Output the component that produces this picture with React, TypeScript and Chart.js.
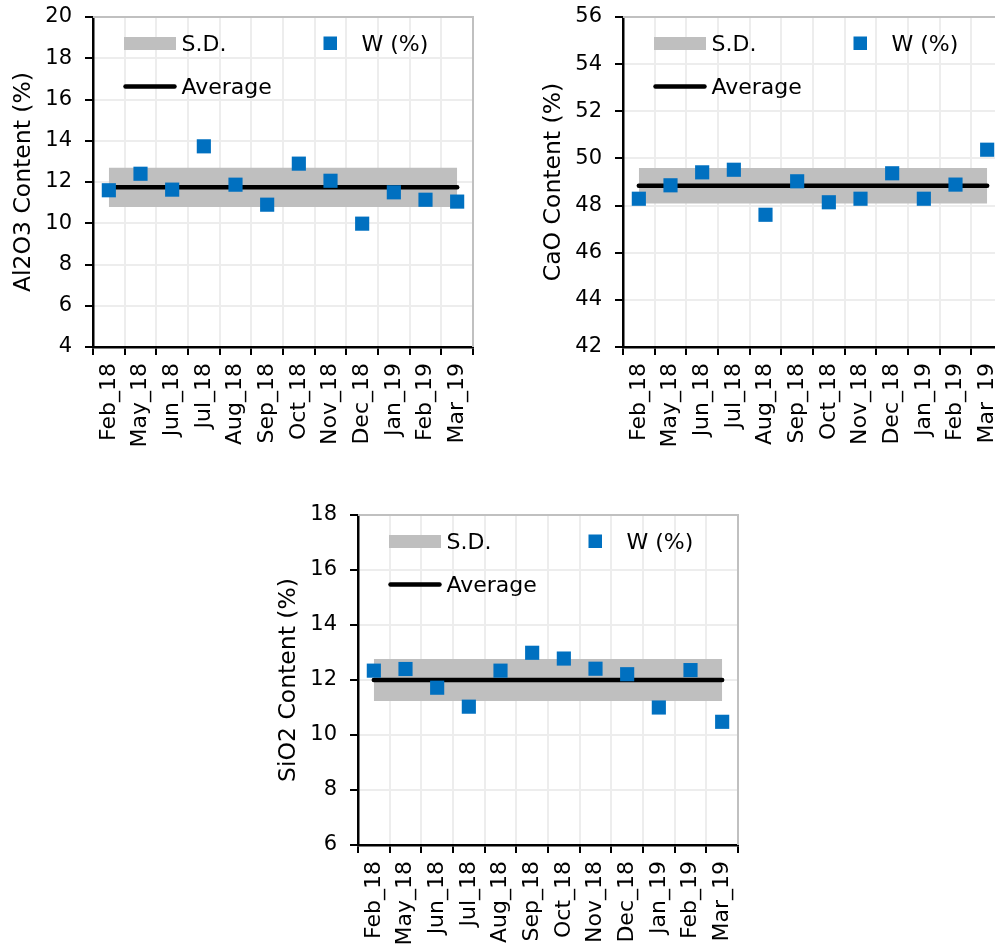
import { useEffect, useRef } from "react";
import { Chart, registerables } from "chart.js";

Chart.register(...registerables);

// Sampling months (category axis)
const months = [
  "Feb_18", "May_18", "Jun_18", "Jul_18", "Aug_18", "Sep_18",
  "Oct_18", "Nov_18", "Dec_18", "Jan_19", "Feb_19", "Mar_19",
];

// Al2O3 content, W (%)
const al2o3Values = [11.6, 12.4, 11.63, 13.73, 11.87, 10.9, 12.89, 12.06, 9.98, 11.5, 11.14, 11.05];
const al2o3Average = 11.74;
const al2o3Sd = 0.95;
const al2o3Range = [4, 20];

// CaO content, W (%)
const caoValues = [48.29, 48.86, 49.41, 49.52, 47.61, 49.03, 48.14, 48.29, 49.37, 48.29, 48.89, 50.37];
const caoAverage = 48.84;
const caoSd = 0.75;
const caoRange = [42, 56];

// SiO2 content, W (%)
const sio2Values = [12.34, 12.4, 11.72, 11.03, 12.34, 12.99, 12.78, 12.41, 12.21, 11.0, 12.36, 10.48];
const sio2Average = 12.0;
const sio2Sd = 0.76;
const sio2Range = [6, 18];

const yStep = 2;

const LABEL_W = "W (%)";
const LABEL_AVG = "Average";
const LABEL_SD = "S.D.";

const FONT = "'DejaVu Sans', 'Liberation Sans', Arial, sans-serif";
const BLUE = "#0070C0";
const BAND = "#BFBFBF";
const GRID = "#EDEDED";

Chart.defaults.color = "#000";

type PanelSpec = {
  title: string;
  values: number[];
  average: number;
  sd: number;
  range: number[];
};

// Legend drawn inside the plot area: S.D. / W (%) on the first row, Average below
const innerLegend = {
  id: "innerLegend",
  afterDraw(chart: any) {
    const { ctx, chartArea } = chart;
    const { left, top } = chartArea;
    ctx.save();
    ctx.fillStyle = BAND;
    ctx.fillRect(left + 31, top + 20, 52, 13);
    ctx.fillStyle = BLUE;
    ctx.fillRect(left + 230.5, top + 19.5, 13.5, 13.5);
    ctx.strokeStyle = "#000";
    ctx.lineWidth = 4.5;
    ctx.lineCap = "round";
    ctx.beginPath();
    ctx.moveTo(left + 32.5, top + 69.5);
    ctx.lineTo(left + 81.5, top + 69.5);
    ctx.stroke();
    ctx.fillStyle = "#000";
    ctx.font = `22px ${FONT}`;
    ctx.textAlign = "left";
    ctx.textBaseline = "alphabetic";
    ctx.fillText(LABEL_SD, left + 88.5, top + 33.5);
    ctx.fillText(LABEL_W, left + 268.5, top + 33.5);
    ctx.fillText(LABEL_AVG, left + 88.5, top + 77);
    ctx.restore();
  },
};

// Light frame on the top and right edges of the plot area
const plotFrame = {
  id: "plotFrame",
  beforeDatasetsDraw(chart: any) {
    const { ctx, chartArea } = chart;
    const { left, right, top, bottom } = chartArea;
    ctx.save();
    ctx.strokeStyle = "#C0C0C0";
    ctx.lineWidth = 2;
    ctx.beginPath();
    ctx.moveTo(left, top);
    ctx.lineTo(right, top);
    ctx.lineTo(right, bottom);
    ctx.stroke();
    ctx.restore();
  },
};

function Panel({ spec, left, top }: { spec: PanelSpec; left: number; top: number }) {
  const ref = useRef<HTMLCanvasElement>(null);

  useEffect(() => {
    const canvas = ref.current;
    if (!canvas) return;
    const avgLine = months.map(() => spec.average);
    const sdUpper = months.map(() => spec.average + spec.sd);
    const sdLower = months.map(() => spec.average - spec.sd);

    const chart = new Chart(canvas, {
      type: "line",
      data: {
        labels: months,
        datasets: [
          {
            label: LABEL_W,
            data: spec.values,
            showLine: false,
            pointStyle: "rect",
            pointRadius: 10,
            pointBorderWidth: 0,
            pointBackgroundColor: BLUE,
            pointBorderColor: BLUE,
            order: 0,
          },
          {
            label: LABEL_AVG,
            data: avgLine,
            borderColor: "#000",
            borderWidth: 4.5,
            borderCapStyle: "round",
            pointRadius: 0,
            fill: false,
            order: 1,
          },
          {
            label: LABEL_SD + " upper",
            data: sdUpper,
            borderWidth: 0,
            borderColor: "rgba(0,0,0,0)",
            pointRadius: 0,
            fill: false,
            order: 2,
          },
          {
            label: LABEL_SD,
            data: sdLower,
            borderWidth: 0,
            borderColor: "rgba(0,0,0,0)",
            backgroundColor: BAND,
            pointRadius: 0,
            fill: "-1",
            order: 3,
          },
        ],
      },
      options: {
        responsive: false,
        animation: false,
        events: [],
        layout: { padding: { top: 17, right: 17, bottom: 0, left: 0 } },
        plugins: {
          legend: { display: false },
          tooltip: { enabled: false },
        },
        scales: {
          x: {
            type: "category",
            offset: true,
            grid: {
              offset: true,
              color: GRID,
              lineWidth: 2,
              tickColor: "#000",
              tickLength: 8,
              tickWidth: 2,
            },
            border: { color: "#000", width: 2.5 },
            ticks: {
              autoSkip: false,
              minRotation: 90,
              maxRotation: 90,
              padding: 8,
              color: "#000",
              font: { family: FONT, size: 22 },
            },
            afterFit: (s: any) => {
              s.height = 123;
              s.paddingLeft = 0;
              s.paddingRight = 10;
            },
          },
          y: {
            min: spec.range[0],
            max: spec.range[1],
            ticks: {
              stepSize: yStep,
              padding: 13,
              color: "#000",
              font: { family: FONT, size: 21 },
            },
            grid: {
              color: GRID,
              lineWidth: 2,
              tickColor: "#000",
              tickLength: 8,
              tickWidth: 2,
            },
            border: { color: "#000", width: 2.5 },
            title: {
              display: true,
              text: spec.title,
              color: "#000",
              font: { family: FONT, size: 23.5 },
              padding: { top: 9.5, bottom: 0 },
            },
            afterFit: (s: any) => {
              s.width = 93;
              s.paddingTop = 10;
              s.paddingBottom = 10;
            },
          },
        },
      },
      plugins: [plotFrame, innerLegend],
    } as any);

    return () => chart.destroy();
  }, [spec]);

  return (
    <canvas
      ref={ref}
      width={490}
      height={470}
      style={{ position: "absolute", left, top, width: 490, height: 470 }}
    />
  );
}

const al2o3Spec: PanelSpec = {
  title: "Al2O3 Content (%)",
  values: al2o3Values,
  average: al2o3Average,
  sd: al2o3Sd,
  range: al2o3Range,
};
const caoSpec: PanelSpec = {
  title: "CaO Content (%)",
  values: caoValues,
  average: caoAverage,
  sd: caoSd,
  range: caoRange,
};
const sio2Spec: PanelSpec = {
  title: "SiO2 Content (%)",
  values: sio2Values,
  average: sio2Average,
  sd: sio2Sd,
  range: sio2Range,
};

export default function App() {
  return (
    <div
      style={{
        position: "fixed",
        left: 0,
        top: 0,
        width: 995,
        height: 945,
        overflow: "hidden",
        background: "#fff",
      }}
    >
      <Panel spec={al2o3Spec} left={0} top={0} />
      <Panel spec={caoSpec} left={530} top={0} />
      <Panel spec={sio2Spec} left={265} top={498} />
    </div>
  );
}
